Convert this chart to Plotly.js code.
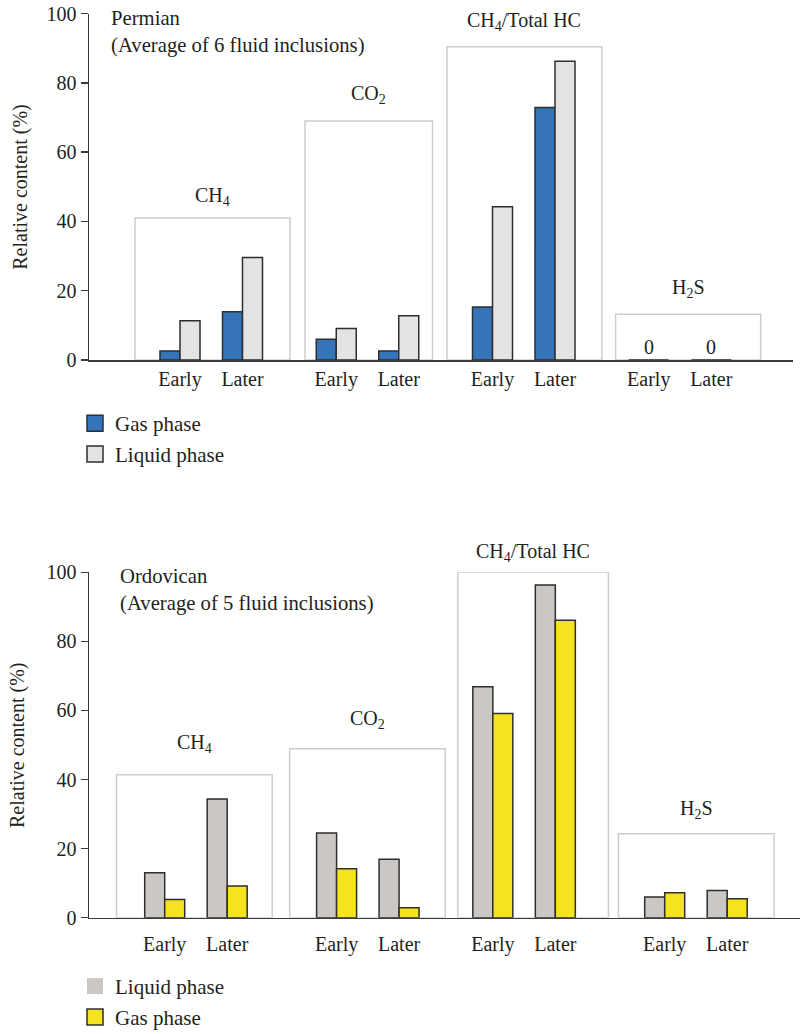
<!DOCTYPE html>
<html>
<head>
<meta charset="utf-8">
<script src="https://cdn.plot.ly/plotly-3.0.1.min.js"></script>
<style>
  html, body { margin: 0; padding: 0; background: #ffffff; }
  #chart { width: 800px; height: 1034px; }
</style>
</head>
<body>
<div id="chart"></div>
<script>
// ---- data ----
const groups = ['CH<sub>4</sub>', 'CO<sub>2</sub>', 'CH<sub>4</sub>/Total HC', 'H<sub>2</sub>S'];
const stages = ['Early', 'Later'];
const phaseNames = ['Gas phase', 'Liquid phase'];

// Permian (average of 6 fluid inclusions), order: CH4 E/L, CO2 E/L, CH4/HC E/L, H2S E/L
const permianGas = [2.6, 13.9, 6.0, 2.6, 15.3, 72.9, 0, 0];
const permianLiquid = [11.3, 29.6, 9.1, 12.8, 44.2, 86.2, 0, 0];
const permianBracket = [41, 69, 90.4, 13.2];

// Ordovican (average of 5 fluid inclusions)
const ordLiquid = [13.0, 34.4, 24.5, 16.9, 66.9, 96.3, 6.0, 7.9];
const ordGas = [5.3, 9.2, 14.2, 2.9, 59.1, 86.1, 7.2, 5.5];
const ordBracket = [41.4, 48.9, 100, 24.3];

const yTicks = [0, 20, 40, 60, 80, 100];

// ---- layout constants ----
const FONT = '"Liberation Serif", "Times New Roman", serif';
const INK = '#231f20';
const AXIS = '#3a3a3a';
const BOX = '#cdcdcd';
const OUTLINE = '#2e2e2e';

const slotsPermian = [0, 1, 2.5, 3.5, 5, 6, 7.5, 8.5];
const slotsOrd = [0, 1, 2.75, 3.75, 5.25, 6.25, 8, 9];
const boxesPermian = [[-0.72, 1.76], [2.0, 4.04], [4.27, 6.75], [6.97, 9.29]];
const boxesOrd = [[-0.77, 1.72], [2.0, 4.49], [4.69, 7.1], [7.26, 9.75]];
const labelLiftPermian = [21, 26, 25, 26];
const labelLiftOrd = [31, 29, 20, 24];

const stageText = groups.flatMap(() => stages);

// category boundary ticks: right edge of every slot, plus some left edges
function boundaryTicks(slots, leftEdgeGroups) {
  const t = slots.map(p => p + 0.5);
  leftEdgeGroups.forEach(g => t.push(slots[g * 2] - 0.5));
  return t.sort((a, b) => a - b);
}

const colors = {
  permGas: '#3574b8', permLiq: '#e4e3e1',
  ordLiq: '#cbc7c4', ordGas: '#f6e31f'
};

function barTrace(x, y, color, xa, ya, name) {
  return {
    type: 'bar', x: x, y: y, name: name, showlegend: false,
    xaxis: xa, yaxis: ya,
    marker: { color: color, line: { color: OUTLINE, width: 1.5 } },
    hoverinfo: 'x+y'
  };
}

function legendTrace(name, color, xa, ya, legend, group, outline) {
  return {
    type: 'scatter', mode: 'markers', x: [null], y: [null],
    xaxis: xa, yaxis: ya, name: name, legend: legend, legendgroup: group,
    marker: { symbol: 'square', size: 16, color: color,
              line: { color: OUTLINE, width: outline ? 1.5 : 0 } },
    hoverinfo: 'skip'
  };
}

const traces = [
  barTrace(slotsPermian, permianGas, colors.permGas, 'x', 'y', phaseNames[0]),
  barTrace(slotsPermian, permianLiquid, colors.permLiq, 'x', 'y', phaseNames[1]),
  barTrace(slotsOrd, ordLiquid, colors.ordLiq, 'x2', 'y2', phaseNames[1]),
  barTrace(slotsOrd, ordGas, colors.ordGas, 'x2', 'y2', phaseNames[0]),
  legendTrace(phaseNames[0], colors.permGas, 'x', 'y', 'legend', 'pg', true),
  legendTrace(phaseNames[1], colors.permLiq, 'x', 'y', 'legend', 'pl', true),
  legendTrace(phaseNames[1], colors.ordLiq, 'x2', 'y2', 'legend2', 'ol', false),
  legendTrace(phaseNames[0], colors.ordGas, 'x2', 'y2', 'legend2', 'og', true)
];

function boxShapes(boxes, tops, xa, ya) {
  return boxes.map((b, i) => ({
    type: 'rect', xref: xa, yref: ya, layer: 'below',
    x0: b[0], x1: b[1], y0: 0, y1: tops[i],
    line: { color: BOX, width: 1.5 }, fillcolor: 'rgba(0,0,0,0)'
  }));
}

function groupLabels(boxes, tops, lifts, xa, ya) {
  return boxes.map((b, i) => ({
    xref: xa, yref: ya, x: (b[0] + b[1]) / 2, y: tops[i],
    text: groups[i], showarrow: false, yanchor: 'middle', yshift: lifts[i],
    font: { family: FONT, size: 20, color: INK }
  }));
}

// value labels over the H2S pair of the Permian panel
function valueLabels(slots, gas, liquid, xa, ya) {
  const out = [];
  [6, 7].forEach(i => {
    const v = Math.max(gas[i], liquid[i]);
    out.push({
      xref: xa, yref: ya, x: slots[i], y: v, text: String(v),
      showarrow: false, yanchor: 'bottom', yshift: 0,
      font: { family: FONT, size: 20, color: INK }
    });
  });
  return out;
}

const W = 800, H = 1034;
const topDomain = [(H - 360) / H, (H - 13.5) / H];
const botDomain = [(H - 917.7) / H, (H - 572.3) / H];
const UNIT = 62.5;

function yAxis(domain, anchor) {
  return {
    domain: domain, range: [0, 100], anchor: anchor,
    tickvals: yTicks, ticks: 'outside', ticklen: 7, tickwidth: 1.5, tickcolor: AXIS,
    showline: true, linecolor: AXIS, linewidth: 1.5,
    showgrid: false, zeroline: false, automargin: false,
    tickfont: { family: FONT, size: 20, color: INK }, fixedrange: true
  };
}

const rangeTop = [-(180 - 89) / UNIT, (793 - 180) / UNIT];
const rangeBot = [-(164.7 - 89) / UNIT, (800 - 164.7) / UNIT];

const layout = {
  width: W, height: H,
  margin: { l: 0, r: 0, t: 0, b: 0, autoexpand: false },
  paper_bgcolor: '#ffffff', plot_bgcolor: 'rgba(0,0,0,0)',
  barmode: 'group', bargap: 0.36, bargroupgap: 0,
  showlegend: true,
  font: { family: FONT, color: INK },
  xaxis: {
    domain: [89 / W, 793 / W], range: rangeTop, anchor: 'y',
    tickvals: slotsPermian, ticktext: stageText, ticks: '', ticklabelstandoff: 0,
    showline: true, linecolor: AXIS, linewidth: 1.5,
    showgrid: false, zeroline: false, automargin: false,
    tickfont: { family: FONT, size: 20, color: INK }, fixedrange: true
  },
  xaxis3: {
    overlaying: 'x', anchor: 'y', range: rangeTop,
    tickvals: boundaryTicks(slotsPermian, [0]), ticks: 'outside', ticklen: 7,
    tickwidth: 1.5, tickcolor: AXIS, showticklabels: false,
    showline: false, showgrid: false, zeroline: false, fixedrange: true
  },
  yaxis: yAxis(topDomain, 'x'),
  xaxis2: {
    domain: [89 / W, 1], range: rangeBot, anchor: 'y2',
    tickvals: slotsOrd, ticktext: stageText, ticks: '', ticklabelstandoff: 8,
    showline: true, linecolor: AXIS, linewidth: 1.5,
    showgrid: false, zeroline: false, automargin: false,
    tickfont: { family: FONT, size: 20, color: INK }, fixedrange: true
  },
  xaxis4: {
    overlaying: 'x2', anchor: 'y2', range: rangeBot,
    tickvals: boundaryTicks(slotsOrd, [0, 1]), ticks: 'outside', ticklen: 7,
    tickwidth: 1.5, tickcolor: AXIS, showticklabels: false,
    showline: false, showgrid: false, zeroline: false, fixedrange: true
  },
  yaxis2: yAxis(botDomain, 'x2'),
  legend: {
    x: 75 / W, xanchor: 'left', y: 1 - 403 / H, yanchor: 'top',
    bgcolor: 'rgba(0,0,0,0)', borderwidth: 0, tracegroupgap: 0.5,
    font: { family: FONT, size: 21, color: INK }, traceorder: 'grouped'
  },
  legend2: {
    x: 75 / W, xanchor: 'left', y: 1 - 966 / H, yanchor: 'top',
    bgcolor: 'rgba(0,0,0,0)', borderwidth: 0, tracegroupgap: 0.5,
    font: { family: FONT, size: 21, color: INK }, traceorder: 'grouped'
  },
  shapes: [].concat(
    boxShapes(boxesPermian, permianBracket, 'x', 'y'),
    boxShapes(boxesOrd, ordBracket, 'x2', 'y2')
  ),
  annotations: [].concat(
    groupLabels(boxesPermian, permianBracket, labelLiftPermian, 'x', 'y'),
    groupLabels(boxesOrd, ordBracket, labelLiftOrd, 'x2', 'y2'),
    valueLabels(slotsPermian, permianGas, permianLiquid, 'x', 'y'),
    [
      { xref: 'paper', yref: 'paper', x: 109 / W, y: 1 - 32.3 / H,
        xanchor: 'left', yanchor: 'middle', align: 'left', showarrow: false,
        text: 'Permian<br>(Average of 6 fluid inclusions)',
        font: { family: FONT, size: 20.7, color: INK } },
      { xref: 'paper', yref: 'paper', x: 117.5 / W, y: 1 - 590.3 / H,
        xanchor: 'left', yanchor: 'middle', align: 'left', showarrow: false,
        text: 'Ordovican<br>(Average of 5 fluid inclusions)',
        font: { family: FONT, size: 20.7, color: INK } },
      { xref: 'paper', yref: 'y domain', x: 21 / W, y: 0.5,
        xanchor: 'center', yanchor: 'middle', textangle: -90, showarrow: false,
        text: 'Relative content (%)', font: { family: FONT, size: 20, color: INK } },
      { xref: 'paper', yref: 'y2 domain', x: 18 / W, y: 0.5,
        xanchor: 'center', yanchor: 'middle', textangle: -90, showarrow: false,
        text: 'Relative content (%)', font: { family: FONT, size: 20, color: INK } }
    ]
  )
};

Plotly.newPlot('chart', traces, layout, { displayModeBar: false, staticPlot: true });
</script>
</body>
</html>
